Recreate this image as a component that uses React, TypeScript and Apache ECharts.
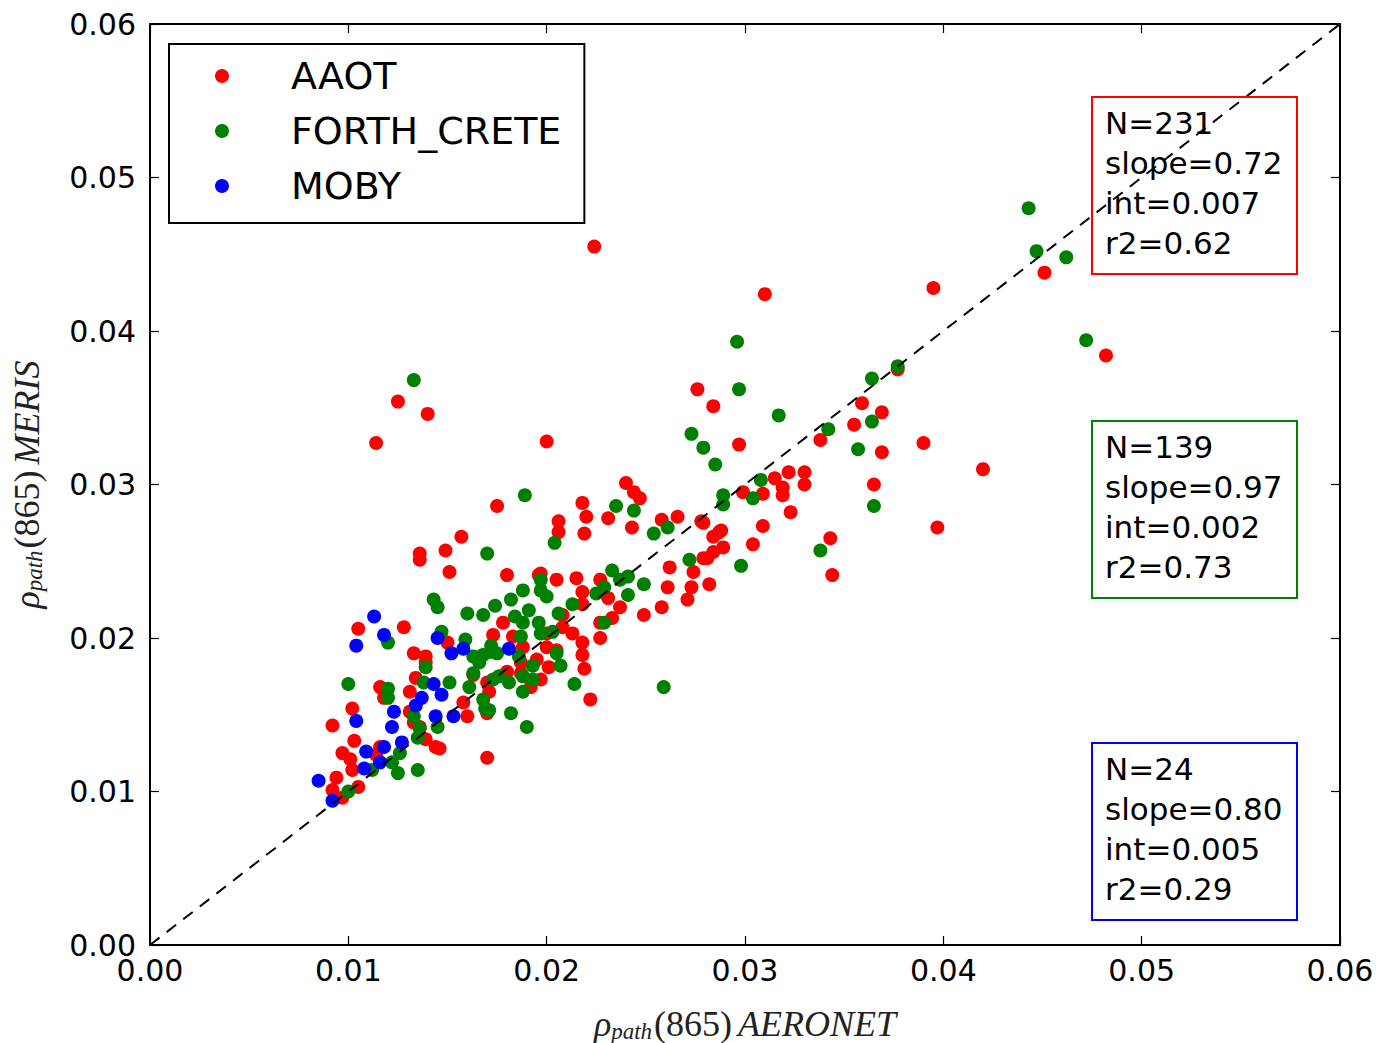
import React, { useEffect, useRef } from "react";
import * as echarts from "echarts";

const AAOT: [number, number][] = [
  [0.0224,0.0455],[0.0310,0.0424],[0.0395,0.0428],[0.0451,0.0438],[0.0482,0.0384],[0.0420,0.0310],[0.0397,0.0272],[0.0390,0.0327],[0.0369,0.0321],[0.0365,0.0300],[0.0355,0.0339],[0.0359,0.0353],[0.0369,0.0347],[0.0338,0.0329],[0.0343,0.0265],[0.0344,0.0241],[0.0276,0.0362],[0.0284,0.0351],[0.0297,0.0326],[0.0200,0.0328],[0.0114,0.0327],[0.0125,0.0354],[0.0140,0.0346],[0.0377,0.0375],
  [0.0315,0.0304],[0.0322,0.0308],[0.0330,0.0308],[0.0319,0.0298],[0.0330,0.0300],[0.0319,0.0293],[0.0309,0.0294],[0.0299,0.0295],[0.0323,0.0282],[0.0309,0.0273],[0.0304,0.0261],[0.0288,0.0270],[0.0284,0.0266],[0.0289,0.0259],[0.0284,0.0256],[0.0279,0.0252],[0.0279,0.0275],[0.0282,0.0235],
  [0.0175,0.0286],[0.0218,0.0288],[0.0220,0.0279],[0.0206,0.0276],[0.0206,0.0269],[0.0219,0.0268],[0.0231,0.0278],[0.0240,0.0301],[0.0244,0.0295],[0.0247,0.0291],[0.0243,0.0272],[0.0258,0.0277],[0.0266,0.0279],[0.0278,0.0276],[0.0287,0.0269],[0.0281,0.0252],[0.0274,0.0243],[0.0262,0.0246],[0.0273,0.0233],[0.0261,0.0233],[0.0258,0.0220],[0.0271,0.0225],[0.0249,0.0215],
  [0.0180,0.0241],[0.0197,0.0242],[0.0205,0.0238],[0.0215,0.0239],[0.0218,0.0230],[0.0227,0.0238],[0.0231,0.0226],[0.0237,0.0220],[0.0227,0.0210],[0.0233,0.0213],[0.0218,0.0222],[0.0208,0.0215],[0.0208,0.0207],[0.0213,0.0203],[0.0227,0.0200],[0.0218,0.0197],[0.0218,0.0189],[0.0219,0.0180],[0.0205,0.0192],[0.0200,0.0203],[0.0200,0.0194],[0.0195,0.0186],[0.0201,0.0181],[0.0197,0.0173],[0.0188,0.0194],[0.0183,0.0201],[0.0178,0.0210],[0.0173,0.0202],[0.0187,0.0184],[0.0187,0.0177],[0.0180,0.0178],[0.0170,0.0171],[0.0171,0.0165],[0.0222,0.0160],[0.0192,0.0168],[0.0170,0.0151],
  [0.0157,0.0266],[0.0149,0.0257],[0.0136,0.0255],[0.0136,0.0251],[0.0151,0.0243],[0.0196,0.0241],
  [0.0105,0.0206],[0.0128,0.0207],[0.0133,0.0190],[0.0139,0.0188],[0.0150,0.0197],[0.0116,0.0168],[0.0118,0.0161],[0.0131,0.0165],[0.0134,0.0174],[0.0102,0.0154],[0.0092,0.0143],[0.0103,0.0133],[0.0097,0.0125],[0.0101,0.0121],[0.0102,0.0114],[0.0094,0.0109],[0.0092,0.0101],[0.0097,0.0096],[0.0105,0.0103],[0.0116,0.0129],[0.0114,0.0124],[0.0144,0.0129],[0.0146,0.0128],[0.0139,0.0134],[0.0133,0.0145],[0.0131,0.0152],[0.0139,0.0184],[0.0170,0.0122],[0.0163,0.0176],[0.0160,0.0149],[0.0158,0.0158],[0.0136,0.0142]
];

const FORTH_CRETE: [number, number][] = [
  [0.0443,0.0480],[0.0447,0.0452],[0.0462,0.0448],[0.0472,0.0394],[0.0296,0.0393],[0.0133,0.0368],[0.0259,0.0168],[0.0100,0.0170],
  [0.0297,0.0362],[0.0317,0.0345],[0.0279,0.0324],[0.0285,0.0313],[0.0308,0.0303],[0.0304,0.0291],[0.0289,0.0293],[0.0289,0.0287],[0.0342,0.0336],[0.0364,0.0369],[0.0377,0.0377],[0.0364,0.0341],[0.0357,0.0323],[0.0365,0.0286],[0.0338,0.0257],[0.0298,0.0247],[0.0273,0.0333],
  [0.0189,0.0293],[0.0235,0.0286],[0.0244,0.0283],[0.0261,0.0272],[0.0254,0.0268],[0.0204,0.0262],[0.0170,0.0255],[0.0272,0.0251],[0.0233,0.0244],[0.0197,0.0238],[0.0197,0.0231],[0.0188,0.0231],[0.0182,0.0225],[0.0174,0.0221],[0.0168,0.0215],[0.0200,0.0227],[0.0213,0.0222],[0.0225,0.0229],[0.0229,0.0233],[0.0237,0.0238],[0.0241,0.0240],[0.0249,0.0235],[0.0241,0.0228],[0.0229,0.0210],[0.0206,0.0216],[0.0191,0.0218],[0.0184,0.0214],[0.0188,0.0210],[0.0196,0.0210],[0.0197,0.0203],[0.0203,0.0204],[0.0187,0.0201],[0.0172,0.0195],[0.0168,0.0189],[0.0175,0.0190],[0.0186,0.0188],[0.0205,0.0190],[0.0207,0.0182],[0.0193,0.0182],[0.0188,0.0175],[0.0193,0.0173],[0.0176,0.0175],[0.0181,0.0171],[0.0188,0.0165],[0.0214,0.0170],[0.0168,0.0160],[0.0171,0.0153],[0.0182,0.0151],[0.0190,0.0142],
  [0.0143,0.0225],[0.0145,0.0220],[0.0160,0.0216],[0.0147,0.0204],[0.0120,0.0197],[0.0159,0.0199],[0.0120,0.0167],[0.0120,0.0161],[0.0139,0.0181],[0.0138,0.0171],[0.0151,0.0171],[0.0161,0.0168],[0.0173,0.0173],[0.0169,0.0154],[0.0133,0.0149],[0.0136,0.0141],[0.0145,0.0142],[0.0135,0.0135],[0.0126,0.0125],[0.0122,0.0119],[0.0125,0.0112],[0.0135,0.0114],[0.0100,0.0100],[0.0112,0.0114],[0.0163,0.0188],[0.0166,0.0184],[0.0172,0.0191],[0.0163,0.0177]
];

const MOBY: [number, number][] = [
  [0.0113,0.0214],[0.0118,0.0202],[0.0104,0.0195],[0.0145,0.0200],[0.0152,0.0190],[0.0158,0.0193],[0.0181,0.0193],[0.0143,0.0170],[0.0147,0.0163],[0.0137,0.0161],[0.0134,0.0156],[0.0123,0.0152],[0.0104,0.0146],[0.0122,0.0142],[0.0144,0.0149],[0.0153,0.0149],[0.0127,0.0132],[0.0118,0.0129],[0.0109,0.0126],[0.0116,0.0119],[0.0108,0.0115],[0.0085,0.0107],[0.0092,0.0094]
];

const ONE_TO_ONE: [number, number][] = [[0, 0], [0.06, 0.06]];

const SERIES_NAMES = ["AAOT", "FORTH_CRETE", "MOBY"];
const SERIES_COLORS = ["#ff0000", "#008000", "#0000ff"];
const STAT_N = [231, 139, 24];
const STAT_SLOPE = ["0.72", "0.97", "0.80"];
const STAT_INT = ["0.007", "0.002", "0.005"];
const STAT_R2 = ["0.62", "0.73", "0.29"];

const AXIS_MIN = 0;
const AXIS_MAX = 0.06;
const AXIS_STEP = 0.01;

export default function App() {
  const ref = useRef<HTMLDivElement>(null);
  useEffect(() => {
    if (!ref.current) return;
    const chart = echarts.init(ref.current, undefined, { renderer: "svg" });
    const sans = "DejaVu Sans";
    const serif = "Liberation Serif";
    const nameRich = {
      r: { fontFamily: serif, fontStyle: "italic", fontSize: 36, color: "#222", lineHeight: 38 },
      s: { fontFamily: serif, fontStyle: "italic", fontSize: 23, color: "#222", lineHeight: 38, verticalAlign: "bottom", padding: [14, 0, 0, 0] },
      n: { fontFamily: serif, fontSize: 36, color: "#222", lineHeight: 38, padding: [0, 6, 0, 2] },
      i: { fontFamily: serif, fontStyle: "italic", fontSize: 36, color: "#222", lineHeight: 38 },
    };
    const baseAxis = {
      type: "value",
      min: AXIS_MIN,
      max: AXIS_MAX,
      interval: AXIS_STEP,
      splitLine: { show: false },
      axisLine: { show: true, onZero: false, lineStyle: { color: "#000", width: 2 } },
      axisTick: { show: true, inside: true, length: 9, lineStyle: { color: "#000", width: 1.2 } },
    };
    const statBoxes = [97, 421, 743].map((top, i) => ({
      type: "group",
      children: [
        {
          type: "rect",
          shape: { x: 1092, y: top, width: 205, height: 177 },
          style: { fill: "none", stroke: SERIES_COLORS[i], lineWidth: 2 },
          z: 10,
        },
        {
          type: "text",
          x: 1105,
          y: top + 6,
          style: {
            text: `N=${STAT_N[i]}\nslope=${STAT_SLOPE[i]}\nint=${STAT_INT[i]}\nr2=${STAT_R2[i]}`,
            font: `31px "${sans}"`,
            fill: "#000",
            lineHeight: 40,
            verticalAlign: "top",
          },
          z: 10,
        },
      ],
    }));
    chart.setOption({
      animation: false,
      backgroundColor: "#fff",
      grid: { left: 150, top: 24, width: 1190, height: 921, containLabel: false, outerBoundsMode: "none" },
      legend: {
        orient: "vertical",
        left: 169,
        top: 44,
        padding: [12, 23, 17, 46],
        itemGap: 15,
        itemWidth: 14,
        itemHeight: 14,
        icon: "circle",
        borderColor: "#000",
        borderWidth: 2,
        backgroundColor: "#fff",
        data: SERIES_NAMES,
        textStyle: { fontFamily: sans, fontSize: 38, color: "#000", lineHeight: 40, padding: [0, 0, 0, 57] },
      },
      xAxis: [
        {
          ...baseAxis,
          position: "bottom",
          axisLabel: { fontFamily: sans, fontSize: 30, color: "#000", margin: 10, formatter: (v: number) => v.toFixed(2) },
          name: "{r|ρ}{s|path}{n|(865)}{i|AERONET}",
          nameLocation: "middle",
          nameGap: 60,
          nameTextStyle: { rich: nameRich },
        },
        { ...baseAxis, position: "top", axisLabel: { show: false } },
      ],
      yAxis: [
        {
          ...baseAxis,
          position: "left",
          axisLabel: { fontFamily: sans, fontSize: 30, color: "#000", margin: 14, formatter: (v: number) => v.toFixed(2) },
          name: "{r|ρ}{s|path}{n|(865)}{i|MERIS}",
          nameLocation: "middle",
          nameGap: 104,
          nameRotate: 90,
          nameTextStyle: { rich: nameRich },
        },
        { ...baseAxis, position: "right", axisLabel: { show: false } },
      ],
      series: [
        ...SERIES_NAMES.map((name, i) => ({
          name,
          type: "scatter",
          data: [AAOT, FORTH_CRETE, MOBY][i],
          symbol: "circle",
          symbolSize: 14,
          itemStyle: { color: SERIES_COLORS[i], opacity: 1 },
          z: 2,
        })),
        {
          name: "1:1",
          type: "line",
          data: ONE_TO_ONE,
          symbol: "none",
          lineStyle: { color: "#000", width: 2, type: [12, 9] },
          z: 5,
          silent: true,
        },
      ],
      graphic: statBoxes,
    });
    return () => chart.dispose();
  }, []);
  return (
    <div
      ref={ref}
      style={{ position: "absolute", left: 0, top: 0, width: 1381, height: 1043, overflow: "hidden" }}
    />
  );
}
